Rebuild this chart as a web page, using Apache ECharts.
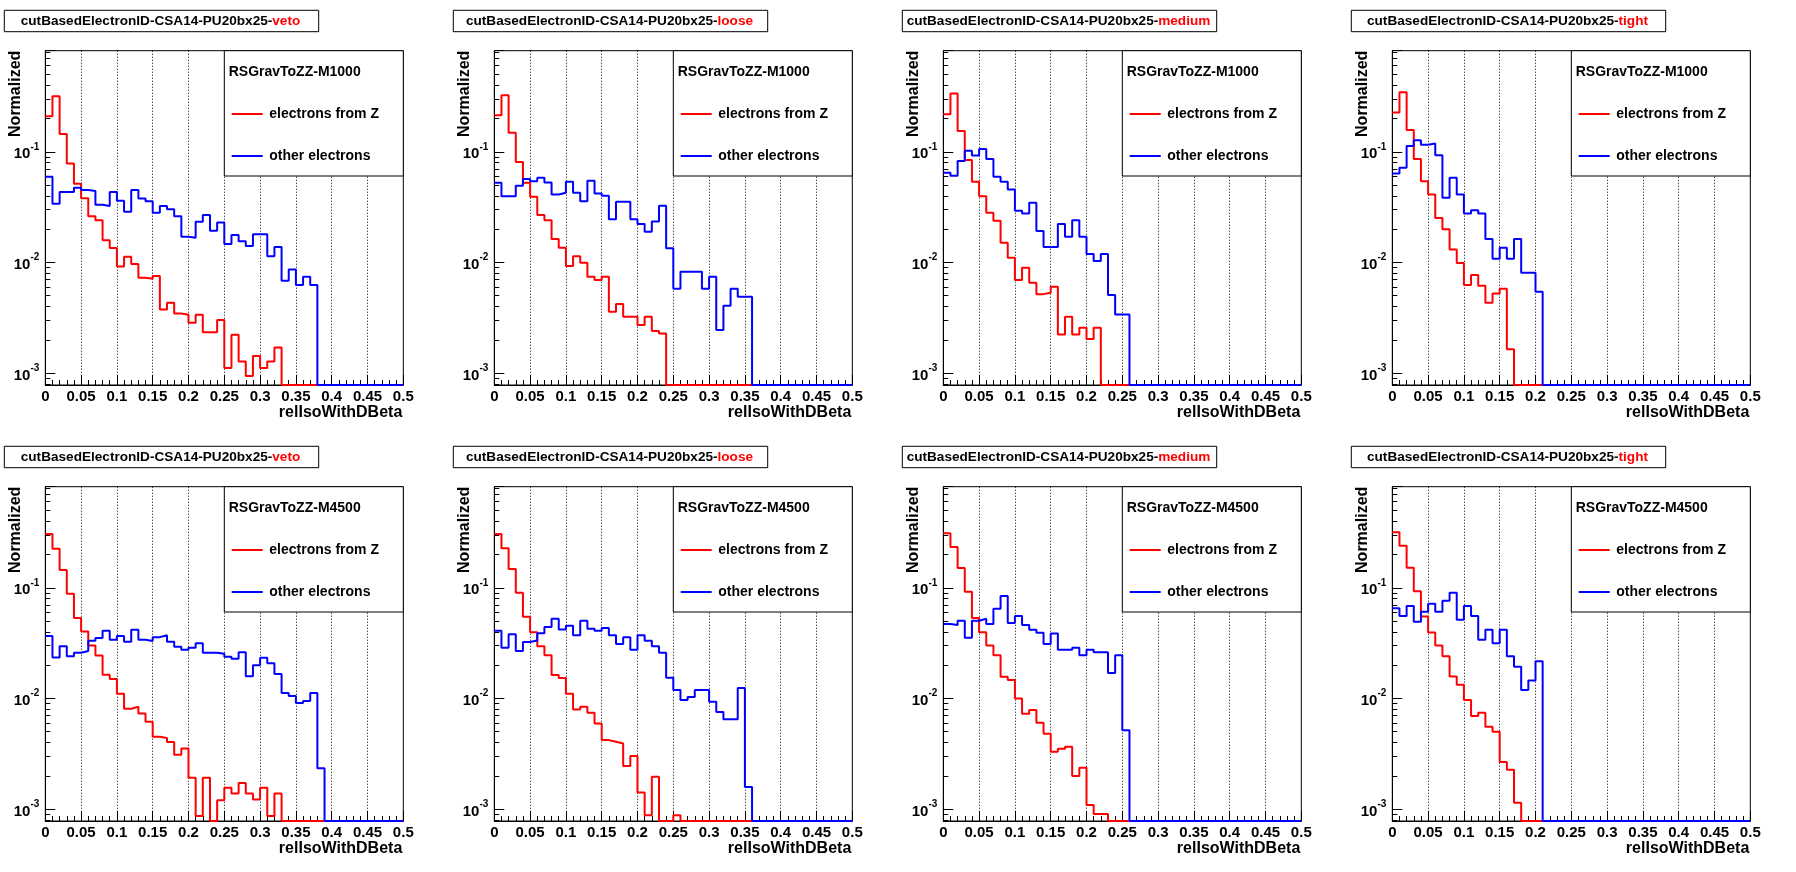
<!DOCTYPE html>
<html><head><meta charset="utf-8">
<script src="https://cdn.jsdelivr.net/npm/echarts@6/dist/echarts.min.js"></script>
<style>html,body{margin:0;padding:0;background:#fff}#c{width:1796px;height:872px}</style>
</head><body><div id="c"></div><script>
// ---------------- data ----------------
const workingPoints = ['veto', 'loose', 'medium', 'tight'];
const samples = ['RSGravToZZ-M1000', 'RSGravToZZ-M4500'];
const titlePrefix = 'cutBasedElectronID-CSA14-PU20bx25-';
const legendLabels = ['electrons from Z', 'other electrons'];
const xTitle = 'relIsoWithDBeta';
const yTitle = 'Normalized';
const N_BINS = 50, BIN_W = 0.01;
const X_MIN = 0, X_MAX = 0.5, X_STEP = 0.05;
const Y_MIN = 0.00078, Y_MAX = 0.82;

// 50 bins each (0..0.5, width 0.01)
const veto_M1000_Z = [0.21,0.318,0.145,0.0785,0.0514,0.0381,0.0262,0.0241,0.0159,0.0135,
 0.0092,0.01125,0.00966,0.00727,0.00711,0.00753,0.00376,0.00432,0.00346,0.00337,
 0.00285,0.00337,0.00234,0.00234,0.00301,0.00111,0.00222,0.00127,0.00094,0.00143,
 0.00111,0.00127,0.0017,0,0,0,0,0,0,0, 0,0,0,0,0,0,0,0,0,0];
const veto_M1000_other = [0.0594,0.0339,0.0433,0.0433,0.0473,0.0451,0.0442,0.0332,0.0323,0.0433,
 0.0361,0.0287,0.0451,0.0379,0.0358,0.0281,0.0323,0.0303,0.0262,0.0171,
 0.0167,0.0233,0.0268,0.0193,0.0230,0.0147,0.0177,0.0155,0.0141,0.0180,
 0.0180,0.0114,0.0138,0.00683,0.00865,0.00624,0.00741,0.00624,0,0, 0,0,0,0,0,0,0,0,0,0];
const loose_M1000_Z = [0.214,0.325,0.149,0.0807,0.0525,0.0392,0.0268,0.0241,0.0163,0.0136,
 0.00927,0.0114,0.00993,0.00741,0.00692,0.00741,0.00358,0.0042,0.00323,0.00323,
 0.00272,0.00323,0.0024,0.00228,0,0,0,0,0,0, 0,0,0,0,0,0,0,0,0,0, 0,0,0,0,0,0,0,0,0,0];
const loose_M1000_other = [0.0525,0.0397,0.0397,0.0493,0.0567,0.0543,0.0582,0.0528,0.0411,0.0426,
 0.0536,0.0426,0.0358,0.0547,0.042,0.04,0.0246,0.0353,0.0353,0.0246,
 0.0223,0.0189,0.0234,0.0325,0.0134,0.00578,0.00824,0.00824,0.00824,0.00578,
 0.00741,0.00245,0.00406,0.00578,0.0049,0.0049,0,0,0,0, 0,0,0,0,0,0,0,0,0,0];
const medium_M1000_Z = [0.219,0.336,0.154,0.0841,0.0536,0.0397,0.0281,0.0238,0.0151,0.0110,
 0.00692,0.00895,0.00655,0.00517,0.00532,0.00603,0.00223,0.00323,0.00223,0.00257,
 0.00203,0.00257,0,0,0,0,0,0,0,0, 0,0,0,0,0,0,0,0,0,0, 0,0,0,0,0,0,0,0,0,0];
const medium_M1000_other = [0.0646,0.0607,0.0824,0.102,0.0927,0.106,0.0859,0.0594,0.0536,0.0457,
 0.0293,0.0277,0.0346,0.0192,0.0138,0.0138,0.0223,0.0171,0.0241,0.0171,
 0.0119,0.0103,0.0119,0.00507,0.00339,0.00339,0,0,0,0, 0,0,0,0,0,0,0,0,0,0, 0,0,0,0,0,0,0,0,0,0];
const tight_M1000_Z = [0.226,0.346,0.157,0.0859,0.0543,0.0411,0.0252,0.0200,0.0131,0.00986,
 0.00624,0.00769,0.00616,0.00432,0.00525,0.00578,0.00164,0,0,0,
 0,0,0,0,0,0,0,0,0,0, 0,0,0,0,0,0,0,0,0,0, 0,0,0,0,0,0,0,0,0,0];
const tight_M1000_other = [0.0637,0.0717,0.113,0.127,0.116,0.119,0.0933,0.0384,0.0582,0.0411,
 0.0277,0.0297,0.0277,0.0163,0.0108,0.0136,0.0108,0.0163,0.00807,0.00807,
 0.00543,0,0,0,0,0,0,0,0,0, 0,0,0,0,0,0,0,0,0,0, 0,0,0,0,0,0,0,0,0,0];

const veto_M4500_Z = [0.307,0.225,0.145,0.0882,0.0532,0.0403,0.0301,0.0245,0.0164,0.015,
 0.0110,0.00807,0.00841,0.00732,0.00616,0.00451,0.00439,0.00403,0.0031,0.00353,
 0.00192,0.000865,0.00192,0,0.0012,0.00156,0.00138,0.00172,0.00138,0.00122,
 0.00156,0.000865,0.00138,0,0,0,0,0,0,0, 0,0,0,0,0,0,0,0,0,0];
const veto_M4500_other = [0.0366,0.0234,0.0297,0.0241,0.0259,0.0268,0.0332,0.0351,0.0408,0.0339,
 0.0366,0.0325,0.0417,0.0339,0.033,0.0358,0.0373,0.0325,0.0293,0.0275,
 0.0287,0.0316,0.0259,0.0259,0.0254,0.0238,0.0228,0.0262,0.0159,0.0200,
 0.0233,0.0208,0.0166,0.0112,0.0105,0.00907,0.00946,0.0112,0.00234,0, 0,0,0,0,0,0,0,0,0,0];
const loose_M4500_Z = [0.307,0.228,0.148,0.0901,0.0547,0.0397,0.0297,0.0246,0.0163,0.0153,
 0.011,0.00796,0.00841,0.00741,0.00594,0.0042,0.00406,0.00392,0.00245,0.00301,
 0.00141,0.000877,0.00196,0,0,0.000877,0,0,0,0, 0,0,0,0,0,0,0,0,0,0, 0,0,0,0,0,0,0,0,0,0];
const loose_M4500_other = [0.0408,0.0287,0.0381,0.0268,0.0323,0.0334,0.0389,0.0442,0.0525,0.042,
 0.0454,0.0373,0.0504,0.0426,0.0408,0.0433,0.0373,0.031,0.0358,0.0275,
 0.0373,0.0332,0.0297,0.0259,0.0154,0.0119,0.00966,0.0103,0.0119,0.0119,
 0.00933,0.00753,0.0065,0.0065,0.0124,0.00158,0,0,0,0, 0,0,0,0,0,0,0,0,0,0];
const medium_M4500_Z = [0.312,0.234,0.151,0.092,0.0532,0.0397,0.0301,0.0246,0.0157,0.0147,
 0.01,0.00727,0.00785,0.00603,0.0048,0.0033,0.00351,0.00366,0.00199,0.00236,
 0.00109,0.000901,0.000901,0,0,0,0,0,0,0, 0,0,0,0,0,0,0,0,0,0, 0,0,0,0,0,0,0,0,0,0];
const medium_M4500_other = [0.047,0.0461,0.0504,0.0353,0.0504,0.0525,0.047,0.0646,0.0841,0.048,
 0.0555,0.0461,0.0417,0.0392,0.031,0.0386,0.0275,0.0275,0.0287,0.0246,
 0.0275,0.0262,0.0262,0.017,0.0246,0.00517,0,0,0,0, 0,0,0,0,0,0,0,0,0,0, 0,0,0,0,0,0,0,0,0,0];
const tight_M4500_Z = [0.318,0.24,0.152,0.0933,0.0551,0.0395,0.0301,0.0241,0.0158,0.0133,
 0.00966,0.00692,0.00741,0.00555,0.005,0.00266,0.00227,0.00114,0,0,
 0,0,0,0,0,0,0,0,0,0, 0,0,0,0,0,0,0,0,0,0, 0,0,0,0,0,0,0,0,0,0];
const tight_M4500_other = [0.0655,0.0555,0.0683,0.0493,0.0607,0.0717,0.0607,0.0763,0.0901,0.0514,
 0.0683,0.0555,0.0339,0.0417,0.0316,0.0417,0.0241,0.0193,0.0119,0.0145,
 0.0217,0,0,0,0,0,0,0,0,0, 0,0,0,0,0,0,0,0,0,0, 0,0,0,0,0,0,0,0,0,0];

const panels = [
  { s: 0, wp: 0, z: veto_M1000_Z,   o: veto_M1000_other },
  { s: 0, wp: 1, z: loose_M1000_Z,  o: loose_M1000_other },
  { s: 0, wp: 2, z: medium_M1000_Z, o: medium_M1000_other },
  { s: 0, wp: 3, z: tight_M1000_Z,  o: tight_M1000_other },
  { s: 1, wp: 0, z: veto_M4500_Z,   o: veto_M4500_other },
  { s: 1, wp: 1, z: loose_M4500_Z,  o: loose_M4500_other },
  { s: 1, wp: 2, z: medium_M4500_Z, o: medium_M4500_other },
  { s: 1, wp: 3, z: tight_M4500_Z,  o: tight_M4500_other }
];

// ---------------- layout / style ----------------
const FONT = '"Liberation Sans", Arial, Helvetica, sans-serif';
const RED = '#ff0000', BLUE = '#0000ff';
const PW = 449, PH = 436;
const GL = 45.3, GT = 50.7, GW = 358, GH = 334.3;
const TITLE_FS = 13.6;

function stepData(vals) {
  const d = vals.map((v, i) => [+(i * BIN_W).toFixed(2), v > 0 ? v : Y_MIN]);
  d.push([X_MAX, d[d.length - 1][1]]);
  return d;
}

const grids = [], xAxes = [], yAxes = [], series = [], graphics = [];
const txt = (o) => Object.assign({ fontFamily: FONT, fontWeight: 'bold', fill: '#000' }, o);

panels.forEach((p, i) => {
  const col = i % 4, row = Math.floor(i / 4);
  const ox = col * PW, oy = row * PH;
  grids.push({ left: ox + GL, top: oy + GT, width: GW, height: GH, show: true,
    borderColor: '#000', borderWidth: 1, backgroundColor: 'transparent', containLabel: false });
  xAxes.push({
    type: 'value', gridIndex: i, min: X_MIN, max: X_MAX, interval: X_STEP,
    axisLine: { show: true, onZero: false, lineStyle: { color: '#000', width: 1 } },
    axisTick: { show: true, inside: true, length: 10, lineStyle: { color: '#000', width: 1 } },
    minorTick: { show: true, splitNumber: 5, length: 5, lineStyle: { color: '#000', width: 1 } },
    splitLine: { show: true, showMinLine: false, showMaxLine: false, lineStyle: { color: '#000', width: 1, type: [1, 2] } },
    axisLabel: { color: '#000', fontSize: 15, fontWeight: 'bold', fontFamily: FONT, margin: 4,
      formatter: v => String(+v.toFixed(2)) }
  });
  yAxes.push({
    type: 'log', logBase: 10, gridIndex: i, min: Y_MIN, max: Y_MAX,
    axisLine: { show: true, lineStyle: { color: '#000', width: 1 } },
    axisTick: { show: true, inside: true, length: 10, lineStyle: { color: '#000', width: 1 } },
    minorTick: { show: true, splitNumber: 9, length: 5, lineStyle: { color: '#000', width: 1 } },
    splitLine: { show: false },
    axisLabel: {
      margin: 6,
      formatter: v => {
        const l = Math.log10(v), r = Math.round(l);
        return Math.abs(l - r) < 1e-6 ? '{b|10}{s|' + r + '}' : '';
      },
      rich: {
        b: { fontSize: 15, fontWeight: 'bold', fontFamily: FONT, color: '#000', verticalAlign: 'bottom', padding: [5, 0, 0, 0] },
        s: { fontSize: 10, fontWeight: 'bold', fontFamily: FONT, color: '#000', verticalAlign: 'top' }
      }
    }
  });
  series.push({ type: 'line', name: legendLabels[0], xAxisIndex: i, yAxisIndex: i, step: 'end',
    data: stepData(p.z), symbol: 'none', lineStyle: { color: RED, width: 2 }, itemStyle: { color: RED }, z: 3 });
  series.push({ type: 'line', name: legendLabels[1], xAxisIndex: i, yAxisIndex: i, step: 'end',
    data: stepData(p.o), symbol: 'none', lineStyle: { color: BLUE, width: 2 }, itemStyle: { color: BLUE }, z: 4 });

  // title box
  graphics.push({ type: 'rect', z: 100, shape: { x: ox + 4.3, y: oy + 10.3, width: 314.4, height: 21.4 },
    style: { fill: '#fff', stroke: '#000', lineWidth: 1 } });
  graphics.push({ type: 'text', z: 101, x: ox + 160.5, y: oy + 21,
    style: txt({ text: '{n|' + titlePrefix + '}{r|' + workingPoints[p.wp] + '}', align: 'center', verticalAlign: 'middle',
      rich: { n: { fontSize: TITLE_FS, fontWeight: 'bold', fontFamily: FONT, fill: '#000' },
              r: { fontSize: TITLE_FS, fontWeight: 'bold', fontFamily: FONT, fill: RED } } }) });
  // legend box
  const lx = ox + GL + GW - 179, ly = oy + GT;
  graphics.push({ type: 'rect', z: 100, shape: { x: lx, y: ly, width: 179, height: 125.3 },
    style: { fill: '#fff', stroke: '#000', lineWidth: 1 } });
  graphics.push({ type: 'text', z: 101, x: lx + 4.4, y: ly + 21.5,
    style: txt({ text: samples[p.s], fontSize: 14, align: 'left', verticalAlign: 'middle' }) });
  [RED, BLUE].forEach((c, k) => {
    const yy = ly + 63.3 + k * 42;
    graphics.push({ type: 'line', z: 101, shape: { x1: lx + 7.4, y1: yy, x2: lx + 38.4, y2: yy },
      style: { stroke: c, lineWidth: 2 } });
    graphics.push({ type: 'text', z: 101, x: lx + 45, y: yy,
      style: txt({ text: legendLabels[k], fontSize: 14, align: 'left', verticalAlign: 'middle' }) });
  });
  // axis titles
  graphics.push({ type: 'text', z: 101, x: ox + 16, y: oy + GT, rotation: Math.PI / 2,
    style: txt({ text: yTitle, fontSize: 16, align: 'right', verticalAlign: 'middle' }) });
  graphics.push({ type: 'text', z: 101, x: ox + GL + GW - 1, y: oy + 413,
    style: txt({ text: xTitle, fontSize: 16, align: 'right', verticalAlign: 'middle' }) });
});

const chart = echarts.init(document.getElementById('c'), null, { renderer: 'canvas' });
chart.setOption({
  backgroundColor: '#fff',
  animation: false,
  grid: grids, xAxis: xAxes, yAxis: yAxes, series: series,
  graphic: { elements: graphics }
});
</script></body></html>
